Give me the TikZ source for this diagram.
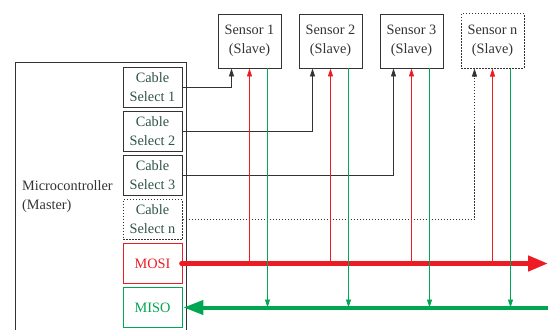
\documentclass[tikz,border=0pt]{standalone}
\usepackage{fontspec}
\setmainfont{Liberation Serif}
\usetikzlibrary{arrows.meta,positioning,calc}
\definecolor{myred}{HTML}{ED1C24}
\definecolor{mygreen}{HTML}{00A651}
\definecolor{cstext}{HTML}{2F5443}
\definecolor{edge}{HTML}{333333}
\begin{document}
\begin{tikzpicture}[x=1pt,y=-1pt,
  txt/.style={font=\fontsize{14.3}{19}\selectfont, align=center, inner sep=0pt},
  csbox/.style={txt, draw=edge, line width=0.9pt, minimum width=59pt, minimum height=40pt, text=cstext},
  sbox/.style={txt, draw=edge, line width=0.9pt, minimum width=63pt, minimum height=54pt, text=edge},
  dotbox/.style={dash pattern=on 1.5pt off 1.5pt, line width=1pt},
  tip/.style={-{Triangle[length=8pt,width=5pt]}},
  sel/.style={edge, line width=0.9pt, tip},
  redl/.style={myred, line width=0.9pt, tip},
  greenl/.style={mygreen, line width=0.9pt, tip}]
\useasboundingbox (0,0) rectangle (548,329);
% microcontroller
\node[draw=edge, line width=0.9pt, anchor=north west, minimum width=171pt, minimum height=290pt, inner sep=0pt] (mc) at (15,62) {};
\node[txt, align=left, anchor=west, text=edge] (mct) at (22,197) {Microcontroller\\(Master)};
% select boxes
\node[csbox] (cs1) at (152.5,87.5) {Cable\\Select 1};
\node[csbox] (cs2) at (152.5,131.5) {Cable\\Select 2};
\node[csbox] (cs3) at (152.5,175.5) {Cable\\Select 3};
\node[csbox, dotbox] (csn) at (152.5,219.5) {Cable\\Select n};
\node[csbox, draw=myred, text=myred] (mosi) at (152.5,263.5) {MOSI};
\node[csbox, draw=mygreen, text=mygreen] (miso) at (152.5,307.5) {MISO};
% sensors
\node[sbox] (s1) at (249.5,41) {Sensor 1\\(Slave)};
\node[sbox] (s2) at (330.5,41) {Sensor 2\\(Slave)};
\node[sbox] (s3) at (411.5,41) {Sensor 3\\(Slave)};
\node[sbox, dotbox] (sn) at (492.5,41) {Sensor n\\(Slave)};
% bus ends
\coordinate (mosiend) at (548,263.5);
\coordinate (misoend) at (548,307.5);
% buses
\draw[myred, line width=4.5pt, line cap=round, -{Triangle[length=20pt,width=15pt]}] ([xshift=-1pt]mosi.east) -- (mosiend);
\draw[mygreen, line width=4pt, -{Triangle[length=20pt,width=14pt]}] (misoend) -- ([xshift=1pt]miso.east);
% selects
\draw[sel] (cs1.east) -| ([xshift=-18pt]s1.south);
\draw[sel] (cs2.east) -| ([xshift=-18pt]s2.south);
\draw[sel] (cs3.east) -| ([xshift=-18pt]s3.south);
\draw[sel, dotbox] (csn.east) -| ([xshift=-18pt]sn.south);
% MOSI / MISO branches
\foreach \s in {s1,s2,s3,sn}{
  \draw[redl] (\s.south |- mosi.east) -- (\s.south);
  \draw[greenl] ([xshift=18pt]\s.south) -- ([xshift=18pt]\s.south |- miso.east);
}
\end{tikzpicture}
\end{document}
